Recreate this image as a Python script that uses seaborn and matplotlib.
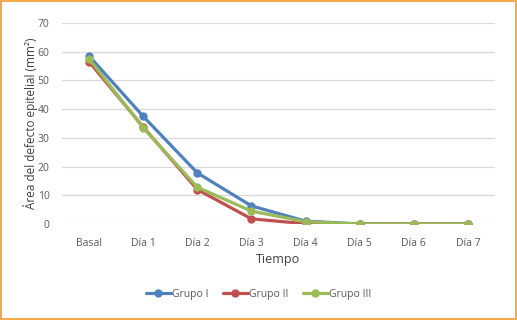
import numpy as np
import pandas as pd
import seaborn as sns
import matplotlib.pyplot as plt
from matplotlib.patches import Rectangle

# data
dias = ['Basal', 'Día 1', 'Día 2', 'Día 3', 'Día 4', 'Día 5', 'Día 6', 'Día 7']
grupo_1 = [58.5, 37.5, 17.8, 6.3, 1.0, 0, 0, 0]
grupo_2 = [56.5, 33.8, 12.0, 1.8, 0.1, 0, 0, 0]
grupo_3 = [57.5, 33.5, 12.8, 4.5, 0.8, 0, 0, 0]
grupos = ['Grupo I', 'Grupo II', 'Grupo III']

df = pd.DataFrame({
    'Tiempo': dias * 3,
    'area': grupo_1 + grupo_2 + grupo_3,
    'grupo': np.repeat(grupos, len(dias)),
})
df['pos'] = df['Tiempo'].map({d: i for i, d in enumerate(dias)})

sns.set_style('white')
plt.rcParams['font.family'] = ['Open Sans', 'DejaVu Sans']

palette = {'Grupo I': '#4F81BD', 'Grupo II': '#C0504D', 'Grupo III': '#9BBB59'}
txt = '#595959'

fig = plt.figure(figsize=(5.17, 3.2), dpi=100)
ax = fig.add_axes([62 / 517, 1 - 224 / 320, (495 - 62) / 517, (224 - 23) / 320])

sns.lineplot(data=df, x='pos', y='area', hue='grupo', palette=palette,
             marker='o', markersize=6, markeredgewidth=0, linewidth=2.3,
             ax=ax, legend=True)

ax.set_xlim(-0.5, len(dias) - 0.5)
ax.set_ylim(0, 70)
ax.set_yticks(range(0, 71, 10))
ax.set_xticks(range(len(dias)))
ax.set_xticklabels(dias)
ax.grid(axis='y', color='#D9D9D9', linewidth=0.9)
ax.set_axisbelow(True)
for s in ax.spines.values():
    s.set_visible(False)
ax.tick_params(axis='both', length=0, labelsize=7.5, labelcolor=txt, pad=9)
ax.tick_params(axis='x', pad=10)

ax.set_xlabel('Tiempo', fontsize=9, color='#404040', labelpad=3)
ax.set_ylabel('Área del defecto epitelial (mm²)', fontsize=8.5, color='#404040', labelpad=0)

handles, labels = ax.get_legend_handles_labels()
ax.get_legend().remove()
fig.legend(handles, labels, loc='center', bbox_to_anchor=(0.5, 1 - 294 / 320), ncol=3,
           frameon=False, fontsize=7.5, labelcolor=txt, handlelength=2.4,
           handletextpad=0.1, columnspacing=1.4)

fig.patches.append(Rectangle((0.001, 0.003), 0.997, 0.994, transform=fig.transFigure,
                             fill=False, edgecolor='#F0A234', linewidth=1.3))

fig.savefig('out.png', dpi=100)
